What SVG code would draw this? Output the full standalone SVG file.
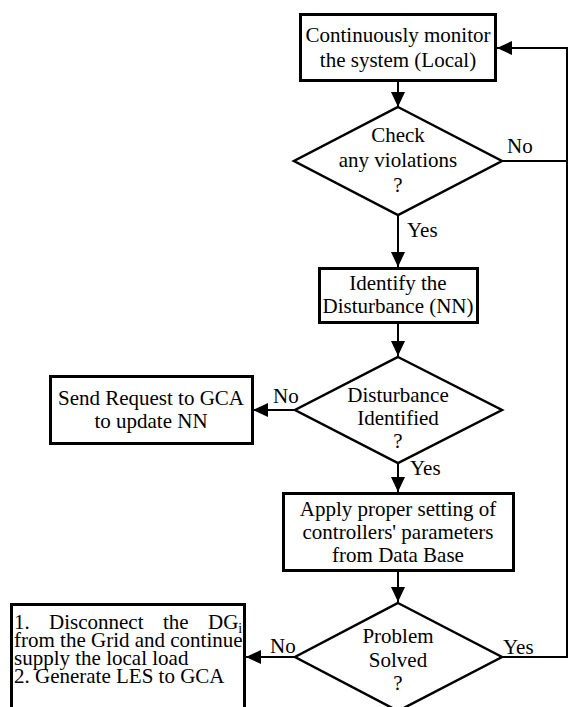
<svg xmlns="http://www.w3.org/2000/svg" width="568" height="707" viewBox="0 0 568 707">
<style>
.box{fill:#fff;stroke:#000;stroke-width:3}
.dia{fill:#fff;stroke:#000;stroke-width:2.5}
.t{font-family:'Liberation Serif','DejaVu Serif',serif;font-size:21px;fill:#000;text-anchor:middle}
.l{font-family:'Liberation Serif','DejaVu Serif',serif;font-size:21px;fill:#000}
.c{fill:none;stroke:#000;stroke-width:2}
</style>
<defs>
<marker id="ah" markerUnits="userSpaceOnUse" markerWidth="16" markerHeight="14" refX="15" refY="7" orient="auto"><path d="M0,0 L15,7 L0,14 Z" fill="#000"/></marker>
</defs>
<rect width="568" height="707" fill="#fff"/>
<g id="connectors">
<path class="c" d="M398,81 V107" marker-end="url(#ah)"/>
<path class="c" d="M502,161 H567 V48 H497" marker-end="url(#ah)"/>
<path class="c" d="M398,215 V267" marker-end="url(#ah)"/>
<path class="c" d="M398,323 V356" marker-end="url(#ah)"/>
<path class="c" d="M295,410 H253" marker-end="url(#ah)"/>
<path class="c" d="M398,463 V492" marker-end="url(#ah)"/>
<path class="c" d="M398,571 V602" marker-end="url(#ah)"/>
<path class="c" d="M295,657 H246" marker-end="url(#ah)"/>
<path class="c" d="M502,657 H567 V161"/>
<text class="l" x="507" y="153">No</text>
<text class="l" x="407" y="237">Yes</text>
<text class="l" x="273" y="403">No</text>
<text class="l" x="410" y="475">Yes</text>
<text class="l" x="270" y="653">No</text>
<text class="l" x="503" y="654">Yes</text>
</g>
<g id="monitor">
<rect class="box" x="300.5" y="14.5" width="195" height="66"/>
<text class="t" x="398" y="42">Continuously monitor</text>
<text class="t" x="398" y="67">the system (Local)</text>
</g>
<g id="check">
<polygon class="dia" points="398,107 502,161 398,215 294,161"/>
<text class="t" x="398" y="142">Check</text>
<text class="t" x="398" y="167">any violations</text>
<text class="t" x="398" y="192">?</text>
</g>
<g id="identify">
<rect class="box" x="319.5" y="268.5" width="158" height="54"/>
<text class="t" x="398" y="290">Identify the</text>
<text class="t" x="398" y="313">Disturbance (NN)</text>
</g>
<g id="identified">
<polygon class="dia" points="398,357 502,410 398,463 295,410"/>
<text class="t" x="398" y="402">Disturbance</text>
<text class="t" x="398" y="425">Identified</text>
<text class="t" x="398" y="448">?</text>
</g>
<g id="request">
<rect class="box" x="50.5" y="376.5" width="202" height="67"/>
<text class="t" x="151" y="405">Send Request to GCA</text>
<text class="t" x="151" y="428">to update NN</text>
</g>
<g id="apply">
<rect class="box" x="283.5" y="493.5" width="230" height="77"/>
<text class="t" x="398" y="516">Apply proper setting of</text>
<text class="t" x="398" y="539">controllers' parameters</text>
<text class="t" x="398" y="562">from Data Base</text>
</g>
<g id="solved">
<polygon class="dia" points="398,603 502,657 398,711 295,657"/>
<text class="t" x="398" y="643">Problem</text>
<text class="t" x="398" y="667">Solved</text>
<text class="t" x="398" y="690">?</text>
</g>
<g id="disconnect">
<rect class="box" x="11.5" y="604.5" width="233" height="120"/>
<text class="l" y="629"><tspan x="14">1.</tspan><tspan x="49">Disconnect</tspan><tspan x="163">the</tspan><tspan x="208">DG</tspan><tspan font-size="14" dy="4">i</tspan></text>
<text class="l" x="14" y="647">from the Grid and continue</text>
<text class="l" x="14" y="665">supply the local load</text>
<text class="l" x="14" y="683">2. Generate LES to GCA</text>
</g>
</svg>
